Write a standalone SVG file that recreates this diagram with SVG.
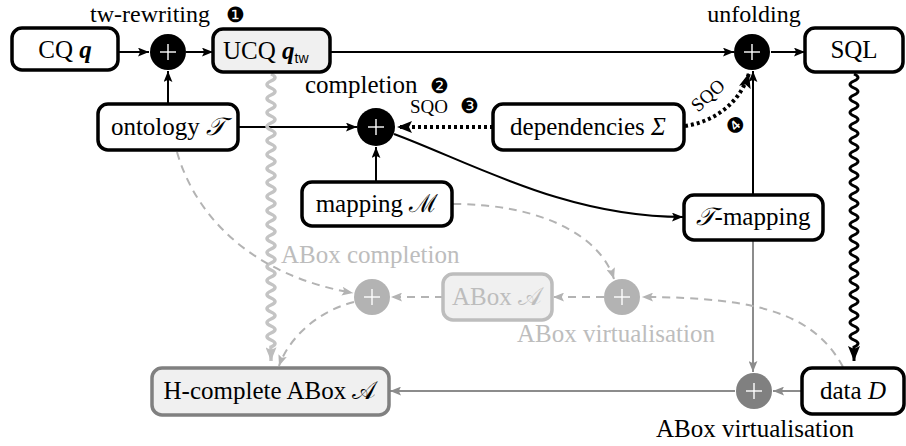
<svg xmlns="http://www.w3.org/2000/svg" width="906" height="446" viewBox="0 0 906 446" font-family="'Liberation Serif', 'DejaVu Serif', serif">
<style>
text{font-family:'Liberation Serif','DejaVu Serif',serif;font-size:25px;fill:#000}
.c{text-anchor:middle}
.box{fill:#fff;stroke:#000;stroke-width:3.5}
.gbox{fill:#f0f0f0;stroke:#000;stroke-width:3.5}
.hbox{fill:#f0f0f0;stroke:#808080;stroke-width:3.5}
.lbox{fill:#f0f0f0;stroke:#bdbdbd;stroke-width:3.5}
.lt{fill:#bdbdbd}
text.top{font-size:24px}
text.num{font-size:21px}
text.sqo{font-size:19px}
.pl{stroke:#fff;stroke-width:1.4}
.ln{fill:none;stroke:#000;stroke-width:2}
.dot{fill:none;stroke:#000;stroke-width:4;stroke-dasharray:3 3}
.gl{fill:none;stroke:#8c8c8c;stroke-width:2}
.dl{fill:none;stroke:#b3b3b3;stroke-width:2;stroke-dasharray:8 6}
tspan.sub{font-family:'Liberation Sans','DejaVu Sans',sans-serif;font-size:14px}
</style>
<defs>
<marker id="ab" viewBox="0 0 10 8" refX="10" refY="4" markerWidth="11" markerHeight="9" markerUnits="userSpaceOnUse" orient="auto"><path d="M0,0 L10,4 L0,8 L2,4 z" fill="#000"/></marker>
<marker id="abig" viewBox="0 0 10 8" refX="10" refY="4" markerWidth="15" markerHeight="12" markerUnits="userSpaceOnUse" orient="auto"><path d="M0,0 L10,4 L0,8 L2,4 z" fill="#000"/></marker>
<marker id="ag" viewBox="0 0 10 8" refX="10" refY="4" markerWidth="11" markerHeight="9" markerUnits="userSpaceOnUse" orient="auto"><path d="M0,0 L10,4 L0,8 L2,4 z" fill="#8c8c8c"/></marker>
<marker id="al" viewBox="0 0 10 8" refX="10" refY="4" markerWidth="11" markerHeight="9" markerUnits="userSpaceOnUse" orient="auto"><path d="M0,0 L10,4 L0,8 L2,4 z" fill="#b3b3b3"/></marker>
<marker id="albig" viewBox="0 0 10 8" refX="10" refY="4" markerWidth="14" markerHeight="11" markerUnits="userSpaceOnUse" orient="auto"><path d="M0,0 L10,4 L0,8 L2,4 z" fill="#bdbdbd"/></marker>
<g id="plus"><line class="pl" x1="-8" y1="0" x2="8" y2="0"/><line class="pl" x1="0" y1="-8" x2="0" y2="8"/></g>
</defs>

<g id="connectors">
<line class="ln" x1="118" y1="52" x2="149" y2="52" marker-end="url(#ab)"/>
<line class="ln" x1="186" y1="52" x2="213" y2="52" marker-end="url(#ab)"/>
<line class="ln" x1="168" y1="104" x2="168" y2="71" marker-end="url(#ab)"/>
<line class="ln" x1="330" y1="52" x2="734" y2="52" marker-end="url(#ab)"/>
<line class="ln" x1="771" y1="52" x2="805" y2="52" marker-end="url(#ab)"/>
<line class="ln" x1="238" y1="127" x2="357" y2="127" marker-end="url(#ab)"/>
<line class="ln" x1="376" y1="182" x2="376" y2="147" marker-end="url(#ab)"/>
<line class="dot" x1="493" y1="127" x2="397" y2="127" marker-end="url(#abig)"/>
<path class="dot" d="M685,126 C713,122 740,104 749,73" marker-end="url(#abig)"/>
<path class="ln" d="M394,134 C470,162 565,217 683,217" marker-end="url(#ab)"/>
<line class="ln" x1="753" y1="195" x2="753" y2="71" marker-end="url(#ab)"/>
<path fill="none" stroke="#000" stroke-width="3" d="M854,74 q8,3.5 0,7 t0,7 t0,7 t0,7 t0,7 t0,7 t0,7 t0,7 t0,7 t0,7 t0,7 t0,7 t0,7 t0,7 t0,7 t0,7 t0,7 t0,7 t0,7 t0,7 t0,7 t0,7 t0,7 t0,7 t0,7 t0,7 t0,7 t0,7 t0,7 t0,7 t0,7 t0,7 t0,7 t0,7 t0,7 t0,7 t0,7 t0,7 t0,7 l0,14" marker-end="url(#abig)"/>
<path fill="none" stroke="#c4c4c4" stroke-width="3.5" d="M271,74 q8,3.5 0,7 t0,7 t0,7 t0,7 t0,7 t0,7 t0,7 t0,7 t0,7 t0,7 t0,7 t0,7 t0,7 t0,7 t0,7 t0,7 t0,7 t0,7 t0,7 t0,7 t0,7 t0,7 t0,7 t0,7 t0,7 t0,7 t0,7 t0,7 t0,7 t0,7 t0,7 t0,7 t0,7 t0,7 t0,7 t0,7 t0,7 t0,7 t0,7 l0,14" marker-end="url(#albig)"/>
<line class="gl" x1="753" y1="241" x2="753" y2="372" marker-end="url(#ag)"/>
<line class="gl" x1="802" y1="391" x2="773" y2="391" marker-end="url(#ag)"/>
<line class="gl" x1="735" y1="391" x2="390" y2="391" marker-end="url(#ag)"/>
<line class="dl" x1="604" y1="297" x2="553" y2="297" marker-end="url(#al)"/>
<line class="dl" x1="443" y1="297" x2="391" y2="297" marker-end="url(#al)"/>
<path class="dl" d="M453,204 C540,204 600,235 614,279" marker-end="url(#al)"/>
<path class="dl" d="M843,367 C815,315 760,297 642,297" marker-end="url(#al)"/>
<path class="dl" d="M177,152 C195,215 250,275 353,293" marker-end="url(#al)"/>
<path class="dl" d="M354,302 C315,312 288,340 279,366" marker-end="url(#al)"/>
</g>

<g id="cq"><rect class="box" x="12" y="28" width="106" height="42" rx="10"/><text class="c" x="65" y="58">CQ <tspan font-weight="bold" font-style="italic">q</tspan></text></g>
<g id="p-rewrite"><circle cx="168" cy="52" r="18" fill="#000"/><use href="#plus" x="168" y="52"/></g>
<g id="ucq"><rect class="gbox" x="213" y="29" width="117" height="43" rx="10"/><text x="223" y="59">UCQ <tspan font-weight="bold" font-style="italic">q</tspan><tspan class="sub" dy="4">tw</tspan></text></g>
<g id="ontology"><rect class="box" x="98" y="104" width="140" height="46" rx="10"/><text class="c" x="168" y="135">ontology <tspan font-style="italic">𝒯</tspan></text></g>
<g id="p-completion"><circle cx="376" cy="127" r="19" fill="#000"/><use href="#plus" x="376" y="127"/></g>
<g id="dependencies"><rect class="box" x="493" y="104" width="191" height="46" rx="10"/><text class="c" x="588" y="135">dependencies <tspan font-style="italic">Σ</tspan></text></g>
<g id="p-unfolding"><circle cx="752" cy="52" r="18" fill="#000"/><use href="#plus" x="752" y="52"/></g>
<g id="sql"><rect class="box" x="805" y="28" width="98" height="44" rx="10"/><text class="c" x="854" y="58">SQL</text></g>
<g id="mapping"><rect class="box" x="302" y="182" width="150" height="44" rx="10"/><text class="c" x="377" y="212">mapping ℳ</text></g>
<g id="tmapping"><rect class="box" x="684" y="195" width="139" height="45" rx="10"/><text class="c" x="753" y="225"><tspan font-style="italic">𝒯</tspan>-mapping</text></g>
<g id="data"><rect class="box" x="802" y="368" width="102" height="46" rx="10"/><text class="c" x="853" y="399">data <tspan font-style="italic">D</tspan></text></g>
<g id="p-virt"><circle cx="754" cy="391" r="18" fill="#808080"/><use href="#plus" x="754" y="391"/></g>
<g id="hcomplete"><rect class="hbox" x="152" y="368" width="237" height="47" rx="10"/><text class="c" x="270" y="399">H-complete ABox 𝒜</text></g>
<g id="p-abox-comp"><circle cx="372" cy="297" r="18" fill="#b3b3b3"/><use href="#plus" x="372" y="297"/></g>
<g id="abox"><rect class="lbox" x="443" y="274" width="109" height="46" rx="10"/><text class="c lt" x="497" y="305">ABox 𝒜</text></g>
<g id="p-abox-virt"><circle cx="622" cy="297" r="18" fill="#b3b3b3"/><use href="#plus" x="622" y="297"/></g>

<g id="labels">
<text class="top" x="90" y="22">tw-rewriting</text><text class="num" x="226" y="22">❶</text>
<text x="305" y="93">completion</text><text class="num" x="430" y="93">❷</text>
<text class="sqo" x="410" y="113">SQO</text><text class="num" x="460" y="113">❸</text>
<text class="c top" x="754" y="22">unfolding</text>
<text class="sqo" transform="translate(712,100) rotate(-42)" text-anchor="middle">SQO</text>
<text class="num" transform="translate(736,125) rotate(-45)" text-anchor="middle" dy="7">❹</text>
<text class="lt" x="281" y="263">ABox completion</text>
<text class="lt" x="517" y="342">ABox virtualisation</text>
<text class="c" x="755" y="437">ABox virtualisation</text>
</g>
</svg>
